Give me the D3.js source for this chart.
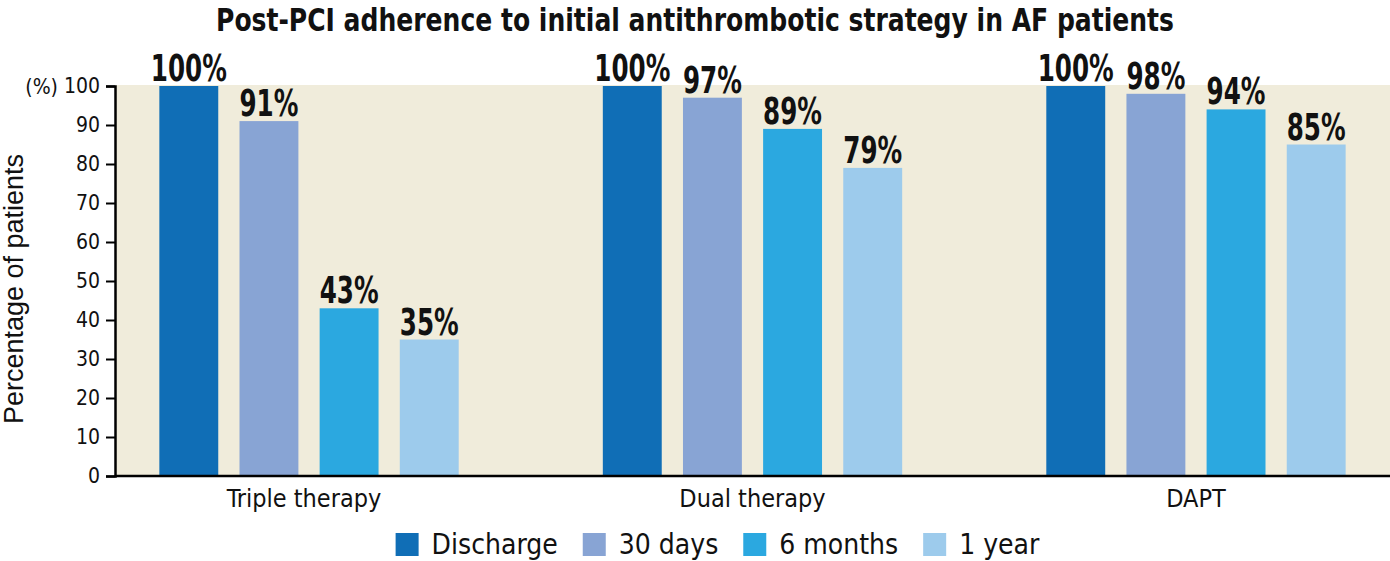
<!DOCTYPE html>
<html>
<head>
<meta charset="utf-8">
<script src="https://cdn.jsdelivr.net/npm/d3@7"></script>
<style>
  body { margin: 0; background: #fff; }
  text { font-family: "DejaVu Sans Condensed", "Liberation Sans Narrow", sans-serif; }
</style>
</head>
<body>
<div id="chart"></div>
<script>
// Chart data
const categories = ["Triple therapy", "Dual therapy", "DAPT"];
const series = ["Discharge", "30 days", "6 months", "1 year"];
const tripleValues = [100, 91, 43, 35];
const dualValues = [100, 97, 89, 79];
const daptValues = [100, 98, 94, 85];
const yTicks = [0, 10, 20, 30, 40, 50, 60, 70, 80, 90, 100];
const colors = ["#106eb6", "#88a4d4", "#2ba8e0", "#9dcbec"];

const allValues = [tripleValues, dualValues, daptValues];

const width = 1390, height = 561;
const margin = { top: 86, right: 0, bottom: 85, left: 115 };

const svg = d3.select("#chart").append("svg")
  .attr("width", width)
  .attr("height", height);

const x0 = d3.scaleBand()
  .domain(categories)
  .range([margin.left, width - margin.right])
  .paddingInner(0.325)
  .paddingOuter(0.1);

const x1 = d3.scaleBand()
  .domain(series)
  .range([0, x0.bandwidth()])
  .paddingInner(0.265);

const y = d3.scaleLinear()
  .domain([0, 100])
  .range([height - margin.bottom, margin.top]);

// plot background
svg.append("rect")
  .attr("x", margin.left)
  .attr("y", margin.top - 1)
  .attr("width", width - margin.left - margin.right)
  .attr("height", height - margin.bottom - margin.top + 1)
  .attr("fill", "#f0ecdb");

// title (squeezed to look like the condensed original)
svg.append("text")
  .attr("transform", "translate(695,31) scale(0.87,1)")
  .attr("text-anchor", "middle")
  .attr("font-size", "32px")
  .attr("font-weight", "bold")
  .attr("fill", "#111")
  .text("Post-PCI adherence to initial antithrombotic strategy in AF patients");

// bars
categories.forEach((cat, ci) => {
  const g = svg.append("g").attr("transform", `translate(${x0(cat)},0)`);
  allValues[ci].forEach((v, si) => {
    g.append("rect")
      .attr("x", x1(series[si]))
      .attr("y", y(v))
      .attr("width", x1.bandwidth())
      .attr("height", y(0) - y(v))
      .attr("fill", colors[si]);

    g.append("text")
      .attr("transform", `translate(${x1(series[si]) + x1.bandwidth() / 2},${y(v) - 5}) scale(0.74,1)`)
      .attr("text-anchor", "middle")
      .attr("font-size", "37px")
      .attr("font-weight", "bold")
      .attr("fill", "#111")
      .text(v + "%");
  });
});

// y axis
const yAxis = svg.append("g")
  .attr("transform", `translate(${margin.left},0)`)
  .call(d3.axisLeft(y).tickValues(yTicks).tickSize(9).tickPadding(6));
yAxis.select(".domain").attr("stroke-width", 2.5).attr("stroke", "#000");
yAxis.selectAll(".tick line").attr("stroke-width", 2).attr("stroke", "#000");
yAxis.selectAll(".tick text")
  .attr("font-size", "21px")
  .attr("fill", "#111")
  .style("font-family", "'DejaVu Sans Condensed', sans-serif");

svg.append("text")
  .attr("x", 58)
  .attr("y", y(100))
  .attr("dy", "0.36em")
  .attr("text-anchor", "end")
  .attr("font-size", "21px")
  .attr("fill", "#111")
  .text("(%)");

// x axis line
svg.append("line")
  .attr("x1", margin.left)
  .attr("x2", width - margin.right)
  .attr("y1", y(0))
  .attr("y2", y(0))
  .attr("stroke", "#000")
  .attr("stroke-width", 2.5);

// category labels
svg.selectAll(".cat-label")
  .data(categories)
  .join("text")
  .attr("class", "cat-label")
  .attr("x", d => x0(d) + x0.bandwidth() / 2 - (d === "Triple therapy" ? 5 : 0))
  .attr("y", 507)
  .attr("text-anchor", "middle")
  .attr("font-size", "25px")
  .attr("fill", "#111")
  .text(d => d);

// y axis title
svg.append("text")
  .attr("transform", `translate(23,${(y(0) + y(100)) / 2 + 8}) rotate(-90)`)
  .attr("text-anchor", "middle")
  .attr("font-size", "27px")
  .style("font-family", "'Liberation Sans', Arial, sans-serif")
  .attr("fill", "#111")
  .text("Percentage of patients");

// legend
const legend = svg.append("g");
let lx = 0;
series.forEach((s, i) => {
  const item = legend.append("g").attr("transform", `translate(${lx},0)`);
  item.append("rect")
    .attr("x", 0)
    .attr("y", 533)
    .attr("width", 23)
    .attr("height", 23)
    .attr("fill", colors[i]);
  const t = item.append("text")
    .attr("x", 36)
    .attr("y", 554)
    .attr("font-size", "28px")
    .attr("fill", "#111")
    .text(s);
  lx += 36 + t.node().getComputedTextLength() + 25;
});
const legendWidth = lx - 25;
legend.attr("transform", `translate(${393 + (1042 - 393 - legendWidth) / 2},0)`);
</script>
</body>
</html>
